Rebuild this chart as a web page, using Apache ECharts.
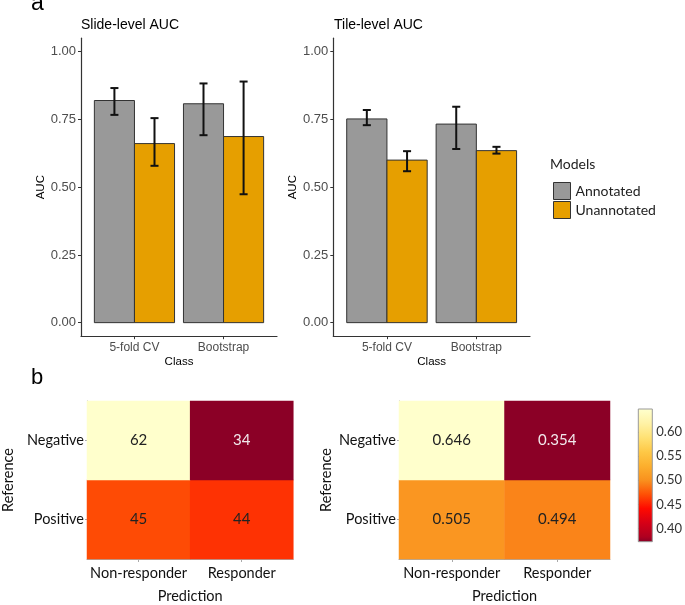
<!DOCTYPE html>
<html>
<head>
<meta charset="utf-8">
<script src="https://cdn.jsdelivr.net/npm/echarts@6/dist/echarts.min.js"></script>
<style>html,body{margin:0;padding:0;background:#fff;}#c{width:685px;height:605px;}</style>
</head>
<body>
<div id="c"></div>
<script>
// ---------- data ----------
const classes = ['5-fold CV', 'Bootstrap'];
const models = ['Annotated', 'Unannotated'];
const aucTicks = [0, 0.25, 0.5, 0.75, 1];

const slideAnnotated = [0.820, 0.808];
const slideAnnotatedLow = [0.767, 0.692];
const slideAnnotatedHigh = [0.866, 0.883];
const slideUnannotated = [0.661, 0.687];
const slideUnannotatedLow = [0.579, 0.474];
const slideUnannotatedHigh = [0.755, 0.890];

const tileAnnotated = [0.752, 0.733];
const tileAnnotatedLow = [0.729, 0.641];
const tileAnnotatedHigh = [0.785, 0.797];
const tileUnannotated = [0.600, 0.635];
const tileUnannotatedLow = [0.559, 0.624];
const tileUnannotatedHigh = [0.633, 0.649];

const predictionLabels = ['Non-responder', 'Responder'];
const referenceLabels = ['Positive', 'Negative']; // bottom to top
const countsPositive = [45, 44];
const countsNegative = [62, 34];
const propPositive = [0.505, 0.494];
const propNegative = [0.646, 0.354];
const colorbarTicks = [0.40, 0.45, 0.50, 0.55, 0.60];
const colorbarRange = [0.373, 0.647];

// ---------- styles ----------
const modelColors = ['#999999', '#E69F00'];
const heatPalette = ['#8B0026', '#AF0020', '#D70016', '#FF0A00', '#FE5005', '#F9911E',
                     '#FCAF2D', '#FEC846', '#FFE173', '#FFF2A5', '#FFFFCC'];
const SANS = 'Liberation Sans, Arial, sans-serif';
const CAL = 'Lato, sans-serif';
const HALF = 0.225;   // half bar width in category units

const chart = echarts.init(document.getElementById('c'), null, {renderer: 'canvas'});

function barSeries(name, colorIdx, values, grid, offset) {
  return {
    type: 'custom', name: name, xAxisIndex: grid, yAxisIndex: grid,
    itemStyle: {color: modelColors[colorIdx], borderColor: '#333', borderWidth: 1},
    data: values.map((v, i) => [i + 1, v]),
    encode: {x: 0, y: 1},
    silent: true,
    renderItem: (params, api) => {
      const c = api.value(0), v = api.value(1);
      const p0 = api.coord([c + offset - HALF, v]);
      const p1 = api.coord([c + offset + HALF, 0]);
      return {type: 'rect',
        shape: {x: p0[0], y: p0[1], width: p1[0] - p0[0], height: p1[1] - p0[1]},
        style: {fill: api.visual('color'), stroke: '#333', lineWidth: 1}};
    }
  };
}
function errSeries(lows, highs, grid, offset) {
  return {
    type: 'custom', xAxisIndex: grid, yAxisIndex: grid, silent: true, z: 5,
    data: lows.map((l, i) => [i + 1, l, highs[i]]),
    encode: {x: 0, y: [1, 2]},
    renderItem: (params, api) => {
      const c = api.value(0) + offset;
      const lo = api.coord([c, api.value(1)]);
      const hi = api.coord([c, api.value(2)]);
      const w = api.coord([c + 0.045, 0])[0] - lo[0];
      const st = {stroke: '#111', lineWidth: 2};
      return {type: 'group', children: [
        {type: 'line', shape: {x1: lo[0], y1: lo[1], x2: hi[0], y2: hi[1]}, style: st},
        {type: 'line', shape: {x1: lo[0] - w, y1: lo[1], x2: lo[0] + w, y2: lo[1]}, style: st},
        {type: 'line', shape: {x1: hi[0] - w, y1: hi[1], x2: hi[0] + w, y2: hi[1]}, style: st}
      ]};
    }
  };
}
function barX(grid) {
  return {gridIndex: grid, type: 'value', min: 0.4, max: 2.6,
    splitLine: {show: false},
    axisLine: {show: true, onZero: false, lineStyle: {color: '#333', width: 1.2}},
    axisTick: {show: true, customValues: [1, 2], length: 3, lineStyle: {color: '#333'}},
    axisLabel: {customValues: [1, 2], formatter: v => classes[Math.round(v) - 1],
      color: '#4D4D4D', fontSize: 12, fontFamily: SANS, margin: 5},
    name: 'Class', nameLocation: 'middle', nameGap: 20,
    nameTextStyle: {color: '#000', fontSize: 11.5, fontFamily: SANS}};
}
function barY(grid) {
  return {gridIndex: grid, type: 'value', min: -0.05, max: 1.05,
    splitLine: {show: false},
    axisLine: {show: true, onZero: false, lineStyle: {color: '#333', width: 1.2}},
    axisTick: {show: true, customValues: aucTicks, length: 3, lineStyle: {color: '#333'}},
    axisLabel: {customValues: aucTicks, formatter: v => v.toFixed(2),
      color: '#4D4D4D', fontSize: 13, fontFamily: SANS, margin: 5},
    name: 'AUC', nameLocation: 'middle', nameGap: 34, nameRotate: 90,
    nameTextStyle: {color: '#000', fontSize: 11.5, fontFamily: SANS}};
}
function heatX(grid) {
  return {gridIndex: grid, type: 'category', data: predictionLabels,
    axisLine: {show: true, lineStyle: {color: '#aaa'}},
    axisTick: {show: true, alignWithLabel: true, length: 3, lineStyle: {color: '#aaa'}},
    axisLabel: {interval: 0, color: '#111', fontSize: 14.5, fontFamily: CAL, margin: 7},
    name: 'Prediction', nameLocation: 'middle', nameGap: 30,
    nameTextStyle: {color: '#111', fontSize: 14.5, fontFamily: CAL}};
}
function heatY(grid, gap) {
  return {gridIndex: grid, type: 'category', data: referenceLabels,
    axisLine: {show: true, lineStyle: {color: '#aaa'}},
    axisTick: {show: true, alignWithLabel: true, length: 2, lineStyle: {color: '#aaa'}},
    axisLabel: {interval: 0, color: '#111', fontSize: 14.5, fontFamily: CAL, margin: 3},
    name: 'Reference', nameLocation: 'middle', nameGap: gap, nameRotate: 90,
    nameTextStyle: {color: '#111', fontSize: 14.5, fontFamily: CAL}};
}
function heatData(rows) {
  const all = rows.flat();
  const mn = Math.min(...all);
  const out = [];
  rows.forEach((row, yi) => row.forEach((v, xi) => {
    out.push({value: [xi, yi, v], label: {color: v === mn ? '#F2E8EC' : '#222'}});
  }));
  return out;
}
function heatSeries(grid, rows, digits) {
  return {type: 'heatmap', xAxisIndex: grid, yAxisIndex: grid,
    data: heatData(rows), silent: true,
    label: {show: true, fontSize: 15, fontFamily: CAL,
      formatter: p => digits ? p.value[2].toFixed(digits) : String(p.value[2])},
    emphasis: {disabled: true}};
}

// colour bar gradient from the palette over the heat scale of the proportions
const pMin = Math.min(...propPositive, ...propNegative);
const pMax = Math.max(...propPositive, ...propNegative);
const stops = heatPalette.map((col, i) => {
  const v = pMin + i / (heatPalette.length - 1) * (pMax - pMin);
  let off = (colorbarRange[1] - v) / (colorbarRange[1] - colorbarRange[0]);
  off = Math.max(0, Math.min(1, off));
  return {offset: off, color: col};
}).sort((a, b) => a.offset - b.offset);

const option = {
  backgroundColor: '#fff',
  animation: false,
  grid: [
    {left: 81, top: 38.2, width: 196, height: 298},
    {left: 333.3, top: 38.2, width: 196.7, height: 298},
    {left: 83.3, top: 401, width: 210, height: 158.3},
    {left: 399, top: 401, width: 211, height: 159},
    {left: 638.3, top: 409, width: 20, height: 132.7, show: true, borderColor: '#999', borderWidth: 1, z: 3}
  ],
  xAxis: [barX(0), barX(1), heatX(2), heatX(3),
    {gridIndex: 4, type: 'value', min: 0, max: 1, show: false}],
  yAxis: [barY(0), barY(1), heatY(2, 71), heatY(3, 65.5),
    {gridIndex: 4, type: 'value', position: 'right', min: colorbarRange[0], max: colorbarRange[1],
      splitLine: {show: false}, axisLine: {show: false},
      axisTick: {show: true, customValues: colorbarTicks, length: 3, lineStyle: {color: '#555'}},
      axisLabel: {customValues: colorbarTicks, formatter: v => v.toFixed(2),
        color: '#333', fontSize: 13, fontFamily: CAL, margin: 4}}],
  legend: {data: models, orient: 'vertical', left: 548, top: 177, itemWidth: 17, itemHeight: 17,
    itemGap: 1, icon: 'rect', selectedMode: false,
    itemStyle: {borderColor: '#333', borderWidth: 1},
    textStyle: {fontFamily: CAL, fontSize: 14, color: '#222'}},
  visualMap: [
    {type: 'continuous', show: false, seriesIndex: 8, dimension: 2,
      min: Math.min(...countsPositive, ...countsNegative), max: Math.max(...countsPositive, ...countsNegative),
      inRange: {color: heatPalette}},
    {type: 'continuous', show: false, seriesIndex: 9, dimension: 2,
      min: pMin, max: pMax, inRange: {color: heatPalette}}
  ],
  graphic: [
    {type: 'text', x: 31, y: 4, style: {text: 'a', fontSize: 23, fontFamily: SANS, fill: '#000', verticalAlign: 'middle'}},
    {type: 'text', x: 31, y: 378, style: {text: 'b', fontSize: 22, fontFamily: SANS, fill: '#000', verticalAlign: 'middle'}},
    {type: 'text', x: 81, y: 25, style: {text: 'Slide-level AUC', fontSize: 14, fontFamily: SANS, fill: '#000', verticalAlign: 'middle'}},
    {type: 'text', x: 334, y: 25, style: {text: 'Tile-level AUC', fontSize: 14, fontFamily: SANS, fill: '#000', verticalAlign: 'middle'}},
    {type: 'text', x: 550, y: 164, style: {text: 'Models', fontSize: 14, fontFamily: CAL, fill: '#222', verticalAlign: 'middle'}}
  ],
  series: [
    barSeries(models[0], 0, slideAnnotated, 0, -HALF),
    barSeries(models[1], 1, slideUnannotated, 0, HALF),
    errSeries(slideAnnotatedLow, slideAnnotatedHigh, 0, -HALF),
    errSeries(slideUnannotatedLow, slideUnannotatedHigh, 0, HALF),
    barSeries(models[0], 0, tileAnnotated, 1, -HALF),
    barSeries(models[1], 1, tileUnannotated, 1, HALF),
    errSeries(tileAnnotatedLow, tileAnnotatedHigh, 1, -HALF),
    errSeries(tileUnannotatedLow, tileUnannotatedHigh, 1, HALF),
    heatSeries(2, [countsPositive, countsNegative], 0),
    heatSeries(3, [propPositive, propNegative], 3),
    {type: 'custom', xAxisIndex: 4, yAxisIndex: 4, silent: true,
      data: [[0, colorbarRange[0], colorbarRange[1]]], encode: {x: 0, y: [1, 2]},
      renderItem: (params, api) => {
        const a = api.coord([0, api.value(2)]);
        const b = api.coord([1, api.value(1)]);
        return {type: 'rect', shape: {x: a[0], y: a[1], width: b[0] - a[0], height: b[1] - a[1]},
          style: {fill: {type: 'linear', x: 0, y: 0, x2: 0, y2: 1, colorStops: stops}}};
      }}
  ]
};
chart.setOption(option);
</script>
</body>
</html>
